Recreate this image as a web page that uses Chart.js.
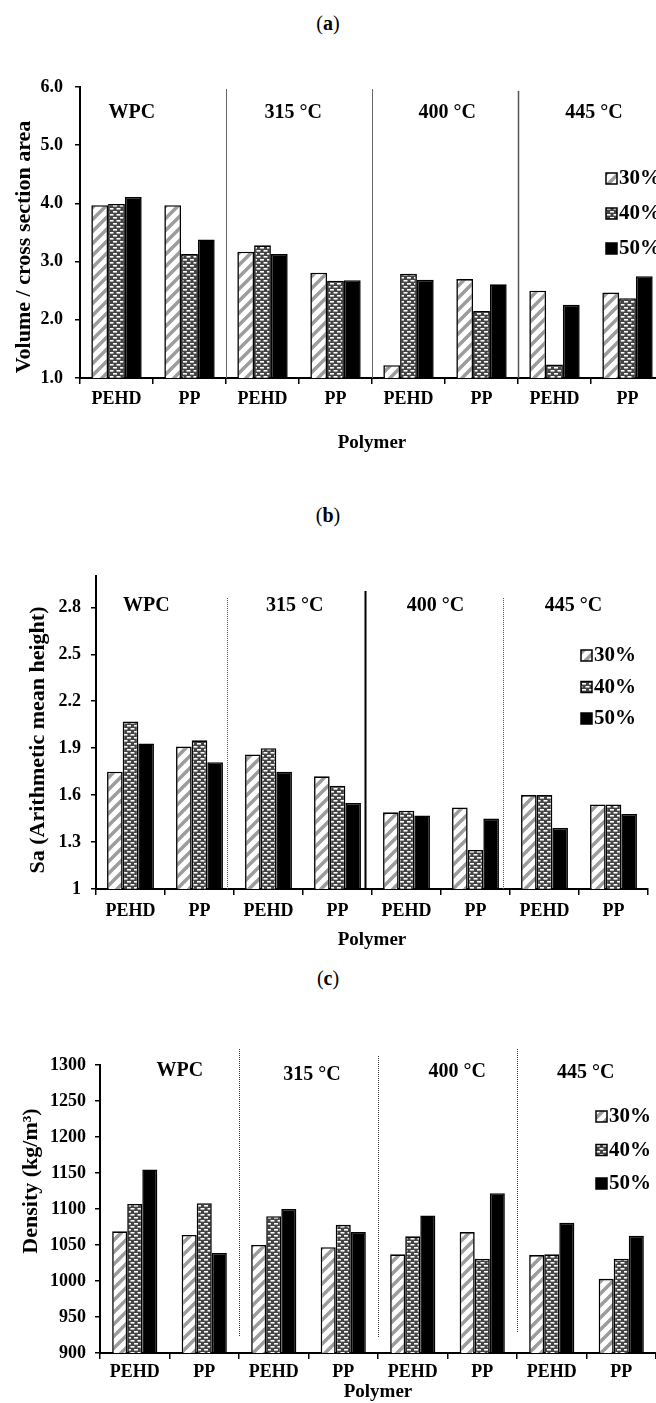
<!DOCTYPE html>
<html>
<head>
<meta charset="utf-8">
<script src="https://cdn.jsdelivr.net/npm/chart.js@4.4.0/dist/chart.umd.min.js"></script>
<style>
  body { margin: 0; width: 656px; height: 1403px; overflow: hidden; background: #fff; position: relative; font-family: 'Liberation Serif', serif; }
  .panel { position: absolute; left: 0; }
  .tag { position: absolute; left: 0; width: 656px; text-align: center; font-size: 20px; color: #000; }
</style>
</head>
<body>
<div class="tag" style="top:12px">(<b>a</b>)</div>
<div class="panel" style="top:60px"><canvas id="chartA" width="680" height="400"></canvas></div>
<div class="tag" style="top:504px">(<b>b</b>)</div>
<div class="panel" style="top:550px"><canvas id="chartB" width="656" height="410"></canvas></div>
<div class="tag" style="top:967px">(<b>c</b>)</div>
<div class="panel" style="top:1030px"><canvas id="chartC" width="656" height="373"></canvas></div>

<script>
// categories
const polymers = ['PEHD', 'PP', 'PEHD', 'PP', 'PEHD', 'PP', 'PEHD', 'PP'];
const groups = ['WPC', '315 °C', '400 °C', '445 °C'];
const seriesNames = ['30%', '40%', '50%'];

// (a) volume / cross section area
const volume30 = [3.97, 3.97, 3.17, 2.81, 1.22, 2.70, 2.50, 2.47];
const volume40 = [3.99, 3.13, 3.28, 2.67, 2.79, 2.15, 1.23, 2.37];
const volume50 = [4.11, 3.38, 3.13, 2.68, 2.69, 2.61, 2.26, 2.75];
const volumeTicks = [1, 2, 3, 4, 5, 6];

// (b) arithmetic mean height
const sa30 = [1.75, 1.91, 1.86, 1.72, 1.49, 1.52, 1.60, 1.54];
const sa40 = [2.07, 1.95, 1.90, 1.66, 1.50, 1.25, 1.60, 1.54];
const sa50 = [1.93, 1.81, 1.75, 1.55, 1.47, 1.45, 1.39, 1.48];
const saTicks = [1, 1.3, 1.6, 1.9, 2.2, 2.5, 2.8];

// (c) density
const density30 = [1069, 1064, 1050, 1047, 1037, 1068, 1036, 1003];
const density40 = [1107, 1108, 1090, 1078, 1062, 1031, 1037, 1031];
const density50 = [1155, 1039, 1100, 1068, 1091, 1122, 1081, 1063];
const densityTicks = [900, 950, 1000, 1050, 1100, 1150, 1200, 1250, 1300];

const serif = "'Liberation Serif', serif";
Chart.defaults.font.family = serif;
Chart.defaults.font.weight = 'bold';
Chart.defaults.color = '#000';

// fill patterns
function stripes() {
  const c = document.createElement('canvas');
  c.width = 12; c.height = 12;
  const g = c.getContext('2d');
  g.fillStyle = '#fff';
  g.fillRect(0, 0, 12, 12);
  g.strokeStyle = '#9c9c9c';
  g.lineWidth = 3.5;
  g.beginPath();
  g.moveTo(-3, 15); g.lineTo(15, -3);
  g.moveTo(-3, 3); g.lineTo(3, -3);
  g.moveTo(9, 15); g.lineTo(15, 9);
  g.stroke();
  return g.createPattern(c, 'repeat');
}
function dashes() {
  const c = document.createElement('canvas');
  c.width = 7; c.height = 6;
  const g = c.getContext('2d');
  g.fillStyle = '#444';
  g.fillRect(0, 0, 7, 6);
  g.fillStyle = '#fff';
  g.fillRect(1, 1, 4, 1.6);
  g.fillRect(4.5, 4, 4, 1.6);
  g.fillRect(-2.5, 4, 4, 1.6);
  return g.createPattern(c, 'repeat');
}
const fills = [stripes(), dashes(), '#000'];

// section dividers + group names
const sections = {
  id: 'sections',
  afterDatasetsDraw(chart, args, o) {
    const { ctx, chartArea, scales: { x } } = chart;
    const half = (x.getPixelForValue(1) - x.getPixelForValue(0)) / 2;
    ctx.save();
    o.lines.forEach(l => {
      const px = Math.round(x.getPixelForValue(l.at) - half + o.dx) + 0.5;
      ctx.strokeStyle = l.color;
      ctx.lineWidth = l.width;
      ctx.setLineDash(l.dash || []);
      ctx.beginPath();
      ctx.moveTo(px, chartArea.top + l.top);
      ctx.lineTo(px, chartArea.bottom - (l.cut || 0));
      ctx.stroke();
    });
    ctx.setLineDash([]);
    ctx.font = 'bold 20px ' + serif;
    ctx.textAlign = 'center';
    ctx.textBaseline = 'middle';
    ctx.fillStyle = '#000';
    groups.forEach((name, i) => {
      ctx.fillText(name, x.getPixelForValue(o.labelAt[i]), chartArea.top + o.labelY[i]);
    });
    ctx.restore();
  }
};

// legend boxes on the right
const boxLegend = {
  id: 'boxLegend',
  afterDraw(chart, args, o) {
    const ctx = chart.ctx;
    ctx.save();
    ctx.font = 'bold 21px ' + serif;
    ctx.textBaseline = 'middle';
    ctx.textAlign = 'left';
    chart.data.datasets.forEach((ds, i) => {
      const y = o.y + i * o.gap;
      ctx.fillStyle = ds.backgroundColor;
      ctx.fillRect(o.x, y - 5, 11, 11);
      ctx.strokeStyle = '#000';
      ctx.lineWidth = 1.5;
      ctx.strokeRect(o.x, y - 5, 11, 11);
      ctx.fillStyle = '#000';
      ctx.fillText(ds.label, o.x + 13, y + 1);
    });
    ctx.restore();
  }
};

// rotated y axis title
const sideTitle = {
  id: 'sideTitle',
  afterDraw(chart, args, o) {
    const ctx = chart.ctx;
    ctx.save();
    ctx.translate(o.x, o.y);
    ctx.rotate(-Math.PI / 2);
    ctx.font = 'bold 22px ' + serif;
    ctx.textAlign = 'center';
    ctx.textBaseline = 'middle';
    ctx.fillStyle = '#000';
    ctx.fillText(o.text, 0, 0);
    ctx.restore();
  }
};

function makeChart(id, cfg) {
  const series = [cfg.s30, cfg.s40, cfg.s50];
  return new Chart(document.getElementById(id), {
    type: 'bar',
    data: {
      labels: polymers,
      datasets: series.map((d, i) => ({
        label: seriesNames[i],
        data: d,
        backgroundColor: fills[i],
        borderColor: '#000',
        borderWidth: 1.6,
        barPercentage: 1,
        categoryPercentage: cfg.catPct
      }))
    },
    options: {
      responsive: false,
      animation: false,
      layout: { padding: cfg.padding },
      plugins: {
        legend: { display: false },
        tooltip: { enabled: false },
        sections: cfg.sections,
        boxLegend: cfg.legend,
        sideTitle: cfg.yTitle
      },
      scales: {
        x: {
          afterFit: s => { s.height = cfg.xHeight; },
          grid: { display: true, drawOnChartArea: false, tickLength: 6, color: '#000', lineWidth: 1.5 },
          border: { color: '#000', width: 2 },
          ticks: { font: { size: 18, weight: 'bold' }, padding: cfg.xPad, maxRotation: 0 },
          title: { display: true, text: 'Polymer', font: { size: 19, weight: 'bold' }, padding: { top: 0, bottom: cfg.titlePad } }
        },
        y: {
          min: cfg.ticks[0],
          max: cfg.yMax,
          afterFit: s => { s.width = cfg.yWidth; },
          afterBuildTicks: s => { s.ticks = cfg.ticks.map(v => ({ value: v })); },
          grid: { display: true, drawOnChartArea: false, tickLength: 5, color: '#000', lineWidth: 1.5 },
          border: { color: '#000', width: 2 },
          ticks: { font: { size: 18, weight: 'bold' }, padding: cfg.yPad, callback: cfg.fmt }
        }
      }
    },
    plugins: [sections, boxLegend, sideTitle]
  });
}

makeChart('chartA', {
  s30: volume30, s40: volume40, s50: volume50,
  ticks: volumeTicks, yMax: 6, fmt: v => Number(v).toFixed(1),
  catPct: 0.69, padding: { top: 27, right: 16, left: 0, bottom: 0 },
  xHeight: 82, yWidth: 80, xPad: 5, yPad: 12, titlePad: 6,
  sections: {
    dx: 0, labelAt: [0.21, 2.42, 4.53, 6.54], labelY: [26, 26, 26, 26],
    lines: [
      { at: 2, color: '#666', width: 1, top: 2 },
      { at: 4, color: '#666', width: 1, top: 2 },
      { at: 6, color: '#555', width: 1.5, top: 4 }
    ]
  },
  legend: { x: 606, y: 118, gap: 35 },
  yTitle: { text: 'Volume / cross section area', x: 24, y: 187 }
});

makeChart('chartB', {
  s30: sa30, s40: sa40, s50: sa50,
  ticks: saTicks, yMax: 3, fmt: v => String(v),
  catPct: 0.68, padding: { top: 26, right: 8, left: 0, bottom: 0 },
  xHeight: 71, yWidth: 96, xPad: 6, yPad: 10, titlePad: 9,
  sections: {
    dx: -7, labelAt: [0.23, 2.38, 4.42, 6.42], labelY: [30, 30, 30, 30],
    lines: [
      { at: 2, color: '#555', width: 1, dash: [1, 1], top: 22 },
      { at: 4, color: '#000', width: 2, top: 15 },
      { at: 6, color: '#555', width: 1, dash: [1, 1], top: 22 }
    ]
  },
  legend: { x: 581, y: 105, gap: 31.5 },
  yTitle: { text: 'Sa (Arithmetic mean height)', x: 38, y: 190 }
});

makeChart('chartC', {
  s30: density30, s40: density40, s50: density50,
  ticks: densityTicks, yMax: 1300, fmt: v => String(v),
  catPct: 0.65, padding: { top: 35, right: 0, left: 0, bottom: 0 },
  xHeight: 50, yWidth: 100, xPad: 3, yPad: 9, titlePad: 0,
  sections: {
    dx: 0, labelAt: [0.65, 2.55, 4.64, 6.49], labelY: [6, 10, 7, 8],
    lines: [
      { at: 2, color: '#333', width: 1, dash: [1, 1], top: -16, cut: 16 },
      { at: 4, color: '#333', width: 1, dash: [1, 1], top: -9, cut: 15 },
      { at: 6, color: '#333', width: 1, dash: [1, 1], top: -16, cut: 20 }
    ]
  },
  legend: { x: 596, y: 86, gap: 33.5 },
  yTitle: { text: 'Density (kg/m³)', x: 31, y: 151 }
});
</script>
</body>
</html>
